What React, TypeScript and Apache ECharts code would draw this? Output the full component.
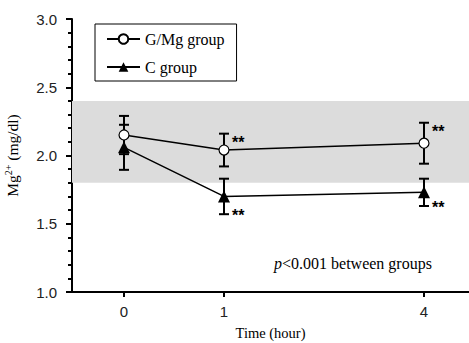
import React, { useEffect, useRef } from "react";
import * as echarts from "echarts";

// Data
const timeLabels = ["0", "1", "4"];
const timePos = [0, 1, 3]; // positions on the (broken) time axis
const gmMean = [2.15, 2.04, 2.09];
const gmErr = [0.14, 0.12, 0.15];
const cMean = [2.06, 1.7, 1.73];
const cErr = [0.165, 0.13, 0.1];
const gmSig = ["", "**", "**"];
const cSig = ["", "**", "**"];
const normalRange = [1.8, 2.4];
const seriesNames = ["G/Mg group", "C group"];

const SANS = "Liberation Sans";
const SERIF = "Liberation Serif";

export default function App() {
  const ref = useRef<HTMLDivElement>(null);
  useEffect(() => {
    if (!ref.current) return;
    const chart = echarts.init(ref.current, undefined, { renderer: "svg" });

    const errData = [
      ...timePos.map((x, i) => [x, gmMean[i], gmErr[i], 1, gmSig[i]]),
      ...timePos.map((x, i) => [x, cMean[i], cErr[i], -1, cSig[i]]),
    ];

    const option: any = {
      animation: false,
      backgroundColor: "#fff",
      grid: { left: 72, right: 0, top: 19, bottom: 51, containLabel: false, outerBoundsMode: "none" },
      legend: {
        orient: "vertical",
        left: 95,
        top: 24,
        padding: [7, 12, 6, 11],
        itemGap: 12,
        itemWidth: 33,
        itemHeight: 12,
        borderColor: "#000",
        borderWidth: 1,
        data: seriesNames,
        textStyle: { fontFamily: SERIF, fontSize: 16, color: "#000", fontWeight: "normal" },
      },
      xAxis: {
        type: "value",
        min: -0.52,
        max: 3.45,
        name: "Time (hour)",
        nameLocation: "middle",
        nameGap: 33,
        nameTextStyle: { fontFamily: SERIF, fontSize: 14.5, color: "#000", fontWeight: "normal" },
        axisLine: { onZero: false, lineStyle: { color: "#000", width: 2 } },
        axisTick: { customValues: timePos, length: 5, lineStyle: { color: "#000", width: 2 } },
        axisLabel: {
          customValues: timePos,
          formatter: (v: number) => {
            const i = timePos.indexOf(v);
            return i >= 0 ? timeLabels[i] : "";
          },
          margin: 12,
          fontFamily: SANS,
          fontSize: 15,
          color: "#222",
        },
        splitLine: { show: false },
      },
      yAxis: {
        type: "value",
        min: 1.0,
        max: 3.0,
        interval: 0.5,
        name: "Mg{sup|2+} (mg/dl)",
        nameLocation: "middle",
        nameGap: 51,
        nameRotate: 90,
        nameTextStyle: {
          fontFamily: SERIF,
          fontSize: 15.5,
          color: "#000",
          fontWeight: "normal",
          rich: {
            sup: { fontFamily: SERIF, fontSize: 10, color: "#000", padding: [0, 0, 8, 0] },
          },
        },
        axisLine: { show: true, onZero: false, lineStyle: { color: "#000", width: 2 } },
        axisTick: { show: true, length: 6, lineStyle: { color: "#000", width: 2 } },
        minorTick: { show: true, splitNumber: 5, length: 4, lineStyle: { color: "#000", width: 2 } },
        axisLabel: {
          formatter: (v: number) => v.toFixed(1),
          margin: 15,
          fontFamily: SANS,
          fontSize: 15,
          color: "#222",
        },
        splitLine: { show: false },
      },
      series: [
        {
          name: "band",
          type: "line",
          data: [],
          silent: true,
          markArea: {
            silent: true,
            itemStyle: { color: "#dcdcdc" },
            data: [[{ yAxis: normalRange[0] }, { yAxis: normalRange[1] }]],
          },
          z: 0,
        },
        {
          name: "err",
          type: "custom",
          z: 1,
          data: errData,
          renderItem: (params: any, api: any) => {
            const x = api.value(0);
            const m = api.value(1);
            const e = api.value(2);
            const dir = api.value(3);
            const sig = api.value(4);
            const top = api.coord([x, m + e]);
            const bot = api.coord([x, m - e]);
            const cap = 5;
            const st = { stroke: "#000", lineWidth: 2 };
            const children: any[] = [
              { type: "line", shape: { x1: top[0], y1: top[1], x2: bot[0], y2: bot[1] }, style: st },
              { type: "line", shape: { x1: top[0] - cap, y1: top[1], x2: top[0] + cap, y2: top[1] }, style: st },
              { type: "line", shape: { x1: bot[0] - cap, y1: bot[1], x2: bot[0] + cap, y2: bot[1] }, style: st },
            ];
            if (sig) {
              const ty = dir > 0 ? top[1] + 9 : bot[1] + 1;
              children.push({
                type: "text",
                x: top[0] + 8,
                y: ty,
                style: {
                  text: String(sig),
                  fontFamily: SANS,
                  fontWeight: "bold",
                  fontSize: 16,
                  fill: "#000",
                  verticalAlign: "middle",
                  align: "left",
                },
              });
            }
            return { type: "group", children };
          },
        },
        {
          name: seriesNames[0],
          type: "line",
          z: 3,
          data: timePos.map((x, i) => [x, gmMean[i]]),
          symbol: "circle",
          symbolSize: 10,
          lineStyle: { color: "#000", width: 1.5 },
          itemStyle: { color: "#fff", borderColor: "#000", borderWidth: 1.2 },
        },
        {
          name: seriesNames[1],
          type: "line",
          z: 4,
          data: timePos.map((x, i) => [x, cMean[i]]),
          symbol: "triangle",
          symbolSize: 12,
          lineStyle: { color: "#000", width: 1.5 },
          itemStyle: { color: "#000" },
        },
      ],
      graphic: [
        {
          type: "text",
          x: 274,
          y: 263,
          style: {
            text: "{i|p}<0.001 between groups",
            fontFamily: SERIF,
            fontSize: 16,
            fill: "#000",
            verticalAlign: "middle",
            rich: { i: { fontFamily: SERIF, fontStyle: "italic", fontSize: 16, fill: "#000" } },
          },
        },
      ],
    };

    chart.setOption(option);
    return () => chart.dispose();
  }, []);

  return <div ref={ref} style={{ width: 469, height: 343, position: "absolute", left: 0, top: 0 }} />;
}
